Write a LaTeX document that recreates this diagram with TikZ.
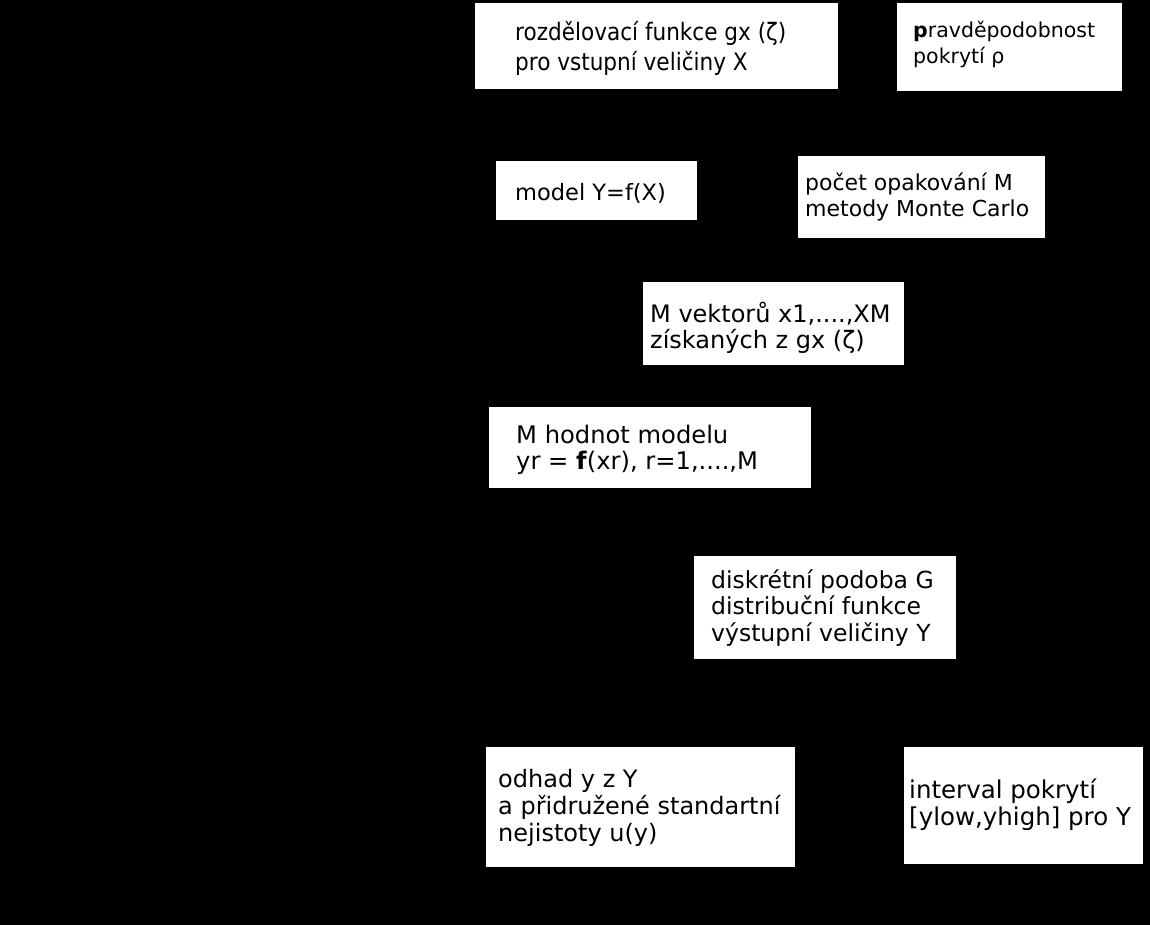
\documentclass[tikz,border=0pt]{standalone}
\usepackage{fontspec}
\setmainfont{DejaVu Sans}
\newfontfamily\tahfont{DejaVu Sans Condensed}
\begin{document}
\begin{tikzpicture}[x=1pt,y=-1pt,
  box/.style={fill=white, draw=none, inner sep=0pt, anchor=north west},
  vtxt/.style={anchor=west, align=left, inner sep=0pt, font=\fontsize{23}{26}\selectfont},
  bigtxt/.style={anchor=west, align=left, inner sep=0pt, font=\tahfont\fontsize{24}{29.5}\selectfont}]
\useasboundingbox (0,0) rectangle (1150,924);
\fill[black] (-5,-5) rectangle (1155,930);
% boxes
\node[box, minimum width=363pt, minimum height=86pt] (b1) at (475,3) {};
\node[box, minimum width=225pt, minimum height=88pt] (b2) at (897,3) {};
\node[box, minimum width=201pt, minimum height=59pt] (b3) at (496,161) {};
\node[box, minimum width=247pt, minimum height=82pt] (b4) at (798,156) {};
\node[box, minimum width=261pt, minimum height=83pt] (b5) at (643,282) {};
\node[box, minimum width=322pt, minimum height=81pt] (b6) at (489,407) {};
\node[box, minimum width=262pt, minimum height=103pt] (b7) at (694,556) {};
\node[box, minimum width=309pt, minimum height=120pt] (b8) at (486,747) {};
\node[box, minimum width=239pt, minimum height=117pt] (b9) at (904,747) {};
% texts
\node[bigtxt] (t1) at ([xshift=40pt,yshift=-2pt]b1.west) {rozdělovací funkce gx (ζ)\\pro vstupní veličiny X};
\node[vtxt, font=\fontsize{20.5}{26}\selectfont] (t2) at ([xshift=16pt,yshift=3pt]b2.west) {\textbf{p}ravděpodobnost\\pokrytí ρ};
\node[vtxt, font=\fontsize{22.5}{26}\selectfont] (t3) at ([xshift=19pt,yshift=-3pt]b3.west) {model Y=f(X)};
\node[vtxt, font=\fontsize{22}{26}\selectfont] (t4) at ([xshift=7pt]b4.west) {počet opakování M\\metody Monte Carlo};
\node[vtxt, font=\fontsize{24}{26}\selectfont] (t5) at ([xshift=7pt,yshift=-4pt]b5.west) {M vektorů x1,....,XM\\získaných z gx (ζ)};
\node[vtxt, font=\fontsize{24.2}{26}\selectfont] (t6) at ([xshift=27pt,yshift=-2pt]b6.west) {M hodnot modelu\\yr = \textbf{f}(xr), r=1,....,M};
\node[vtxt, font=\fontsize{23.5}{26.5}\selectfont] (t7) at ([xshift=17pt]b7.west) {diskrétní podoba G\\distribuční funkce\\výstupní veličiny Y};
\node[vtxt, font=\fontsize{24}{27}\selectfont] (t8) at ([xshift=12pt,yshift=-1pt]b8.west) {odhad y z Y\\a přidružené standartní\\nejistoty u(y)};
\node[vtxt, font=\fontsize{24.5}{27}\selectfont] (t9) at ([xshift=5pt,yshift=1pt]b9.west) {interval pokrytí\\{[ylow,yhigh]} pro Y};
\end{tikzpicture}
\end{document}
